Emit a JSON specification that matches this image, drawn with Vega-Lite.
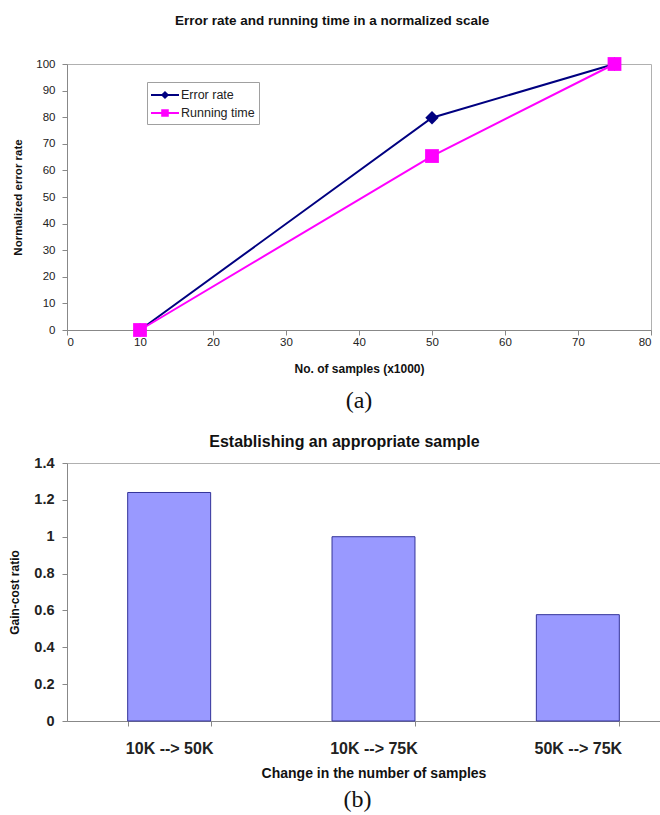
{
  "$schema": "https://vega.github.io/schema/vega-lite/v6.json",
  "background": "white",
  "padding": {"left": 8, "top": 14, "right": 0, "bottom": 0},
  "spacing": 20,
  "config": {
    "font": "Liberation Sans",
    "view": {"stroke": "#b0b0b0", "strokeWidth": 1},
    "axis": {
      "grid": false,
      "domainColor": "#888888",
      "tickColor": "#888888",
      "tickSize": 5,
      "labelColor": "#222222",
      "titleColor": "#111111",
      "titleFontWeight": "bold"
    },
    "legend": {
      "title": null, "strokeColor": "#a0a0a0", "fillColor": "white", "padding": 4,
      "labelFontSize": 12.5, "labelColor": "#222222", "labelOffset": 12, "rowPadding": 2,
      "symbolSize": 324, "symbolOpacity": 1, "symbolStrokeWidth": 0
    }
  },
  "vconcat": [
    {
      "title": {"text": "Error rate and running time in a normalized scale", "fontSize": 13.5, "fontWeight": "bold", "color": "#111111", "offset": 29, "anchor": "middle"},
      "vconcat": [
        {
          "width": 584,
          "height": 266,
          "title": {"text": "(a)", "orient": "bottom", "font": "Liberation Serif", "fontSize": 24, "fontWeight": "normal", "color": "#111111", "frame": "group", "anchor": "middle", "offset": 14},
          "data": {"values": [
            {"series": "Error rate", "samples": 10, "value": 0},
            {"series": "Error rate", "samples": 50, "value": 79.8},
            {"series": "Error rate", "samples": 75, "value": 100},
            {"series": "Running time", "samples": 10, "value": 0},
            {"series": "Running time", "samples": 50, "value": 65.4},
            {"series": "Running time", "samples": 75, "value": 100}
          ]},
          "encoding": {
            "x": {"field": "samples", "type": "quantitative", "scale": {"domain": [0, 80], "nice": false},
                  "axis": {"values": [0, 10, 20, 30, 40, 50, 60, 70, 80], "title": "No. of samples (x1000)", "titleFontSize": 12, "labelFontSize": 11.5, "labelPadding": 1, "titlePadding": 16}},
            "y": {"field": "value", "type": "quantitative", "scale": {"domain": [0, 100], "nice": false},
                  "axis": {"values": [0, 10, 20, 30, 40, 50, 60, 70, 80, 90, 100], "title": "Normalized error rate", "titleFontSize": 11.5, "labelFontSize": 11.5, "labelPadding": 7, "titlePadding": 12}}
          },
          "layer": [
            {"transform": [{"filter": "datum.series === 'Error rate'"}],
             "mark": {"type": "line", "strokeWidth": 2, "color": "#000080"}},
            {"transform": [{"filter": "datum.series === 'Running time'"}],
             "mark": {"type": "line", "strokeWidth": 2, "color": "#FF00FF"}},
            {"transform": [{"filter": "datum.series === 'Error rate'"}],
             "mark": {"type": "point", "filled": true, "opacity": 1, "shape": "diamond", "size": 180, "color": "#000080"}},
            {"transform": [{"filter": "datum.series === 'Running time'"}],
             "mark": {"type": "point", "filled": true, "opacity": 1, "shape": "square", "size": 190, "color": "#FF00FF"}},
            {"mark": {"type": "point", "filled": true, "opacity": 0},
             "encoding": {
               "color": {"field": "series", "type": "nominal",
                         "scale": {"domain": ["Error rate", "Running time"], "range": ["#000080", "#FF00FF"]},
                         "legend": {"orient": "none", "legendX": 80, "legendY": 18}},
               "shape": {"field": "series", "type": "nominal",
                         "scale": {"domain": ["Error rate", "Running time"],
                                   "range": ["M-1,-0.11H0.215L0.555,-0.45L0.895,-0.11H2.11V0.11H0.895L0.555,0.45L0.215,0.11H-1Z", "M-1,-0.11H0.135V-0.42H0.975V-0.11H2.11V0.11H0.975V0.42H0.135V0.11H-1Z"]},
                         "legend": {"orient": "none", "legendX": 80, "legendY": 18}}
             }}
          ]
        }
      ]
    },
    {
      "title": {"text": "Establishing an appropriate sample", "fontSize": 16, "fontWeight": "bold", "color": "#111111", "offset": 5, "anchor": "middle"},
      "vconcat": [
        {
          "width": 613,
          "height": 258,
          "title": {"text": "(b)", "orient": "bottom", "font": "Liberation Serif", "fontSize": 24, "fontWeight": "normal", "color": "#111111", "frame": "group", "anchor": "middle", "offset": 8, "dx": -16},
          "data": {"values": [
            {"change": "10K --> 50K", "ratio": 1.24},
            {"change": "10K --> 75K", "ratio": 1.0},
            {"change": "50K --> 75K", "ratio": 0.577}
          ]},
          "mark": {"type": "bar", "fill": "#9999FF", "stroke": "#333399", "strokeWidth": 1},
          "encoding": {
            "x": {"field": "change", "type": "nominal", "sort": null,
                  "scale": {"paddingInner": 0.594, "paddingOuter": 0.297},
                  "axis": {"labelAngle": 0, "tickBand": "extent", "title": "Change in the number of samples", "titleFontSize": 14, "labelFontSize": 16, "labelFontWeight": "bold", "labelPadding": 14, "titlePadding": 10}},
            "y": {"field": "ratio", "type": "quantitative", "scale": {"domain": [0, 1.4], "nice": false},
                  "axis": {"values": [0, 0.2, 0.4, 0.6, 0.8, 1, 1.2, 1.4], "format": "~g", "title": "Gain-cost ratio", "titleFontSize": 12, "labelFontSize": 14.5, "labelFontWeight": "bold", "labelPadding": 8, "titlePadding": 12}}
          }
        }
      ]
    }
  ]
}
